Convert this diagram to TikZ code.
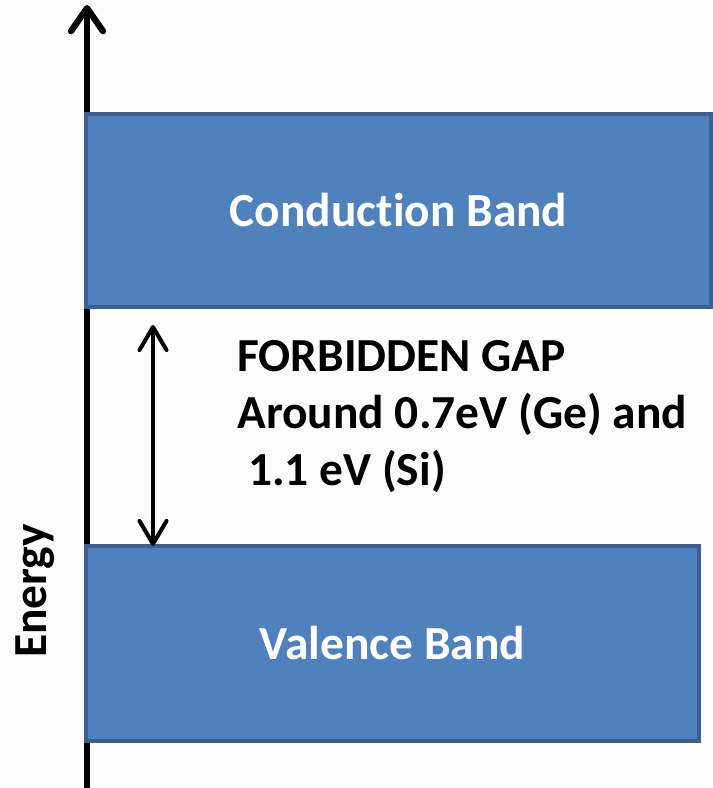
\documentclass[tikz,border=0pt]{standalone}
\usepackage{fontspec}
\setmainfont[Ligatures=NoCommon,RawFeature={-calt;-dlig;-clig}]{Carlito}
\usetikzlibrary{arrows.meta,positioning}
\definecolor{bandfill}{HTML}{4F81BD}
\definecolor{bandedge}{HTML}{3D5F8D}
\definecolor{paper}{HTML}{FCFCFC}

\begin{document}
\begin{tikzpicture}[
  x=0.02cm, y=-0.02cm,
  band/.style={draw=bandedge,fill=bandfill,line width=2.4pt,text=white,
    font=\fontsize{27}{32}\selectfont\bfseries,inner sep=0pt},
  axis/.style={line width=3.6pt,-{Straight Barb[length=4.6mm,width=6.4mm,line width=3.6pt,round]}},
  gaparrow/.style={line width=2.3pt,{Straight Barb[length=4.6mm,width=5.4mm,line width=2.3pt,round]}-{Straight Barb[length=4.6mm,width=5.4mm,line width=2.3pt,round]}},
  label/.style={font=\fontsize{27}{32.5}\selectfont\bfseries,align=left,inner sep=0pt}
]
\fill[paper] (0,0) rectangle (713,788);
\useasboundingbox (0,0) rectangle (713,788);
% energy axis
\coordinate (ebot) at (87,788);
\coordinate (etop) at (87,5);
\draw[axis] (ebot) -- (etop);
\node[rotate=90,label] (energy) at (35,591) {Energy};
% bands
\node[band,minimum width=12.5cm,minimum height=3.86cm] (cb) at (398.5,210.5) {Conduc\kern0pt tion Band};
\node[band,minimum width=12.26cm,minimum height=3.9cm] (vb) at (392.5,643.5) {Valence Band};
% forbidden gap
\coordinate (gtop) at (153,325);
\coordinate (gbot) at (153,546);
\draw[gaparrow] (gtop) -- (gbot);
\node[label,anchor=north west] (gap) at (237,340) {FORBIDDEN GAP\\Around 0.7eV (Ge) and\\\ 1.1 eV (Si)};
\end{tikzpicture}
\end{document}
